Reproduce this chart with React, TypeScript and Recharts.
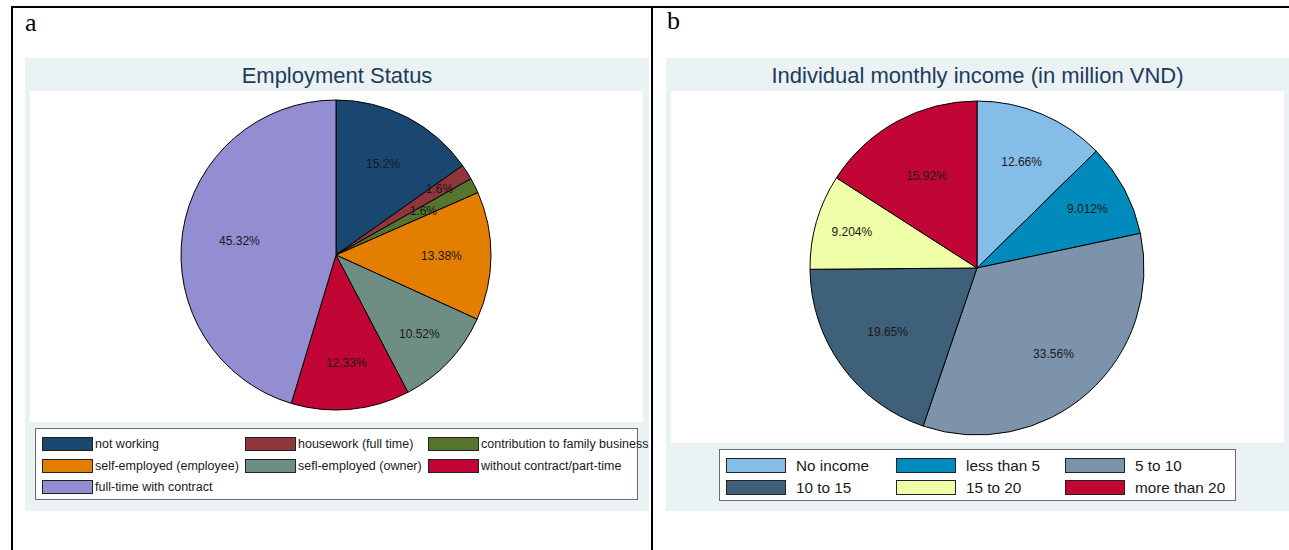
import { PieChart, Pie, Cell } from 'recharts'

const employmentLabels = [
  'not working',
  'housework (full time)',
  'contribution to family business',
  'self-employed (employee)',
  'sefl-employed (owner)',
  'without contract/part-time',
  'full-time with contract',
]
const employmentValues = [15.2, 1.6, 1.6, 13.38, 10.52, 12.33, 45.32]
const employmentColors = ['#1a476f', '#90353b', '#55752f', '#e37e00', '#6e8e84', '#c10534', '#938dd2']
// label distance (fraction of radius) per slice, so the two thin slices don't collide
const employmentLabelPos = [0.66, 0.79, 0.63, 0.68, 0.74, 0.7, 0.63]

const incomeLabels = ['No income', 'less than 5', '5 to 10', '10 to 15', '15 to 20', 'more than 20']
const incomeValues = [12.66, 9.012, 33.56, 19.65, 9.204, 15.92]
const incomeColors = ['#84bde8', '#008bbc', '#7d93ab', '#3e6079', '#eeffa8', '#c10534']
const incomeLabelPos = [0.69, 0.75, 0.69, 0.66, 0.78, 0.63]

const RAD = Math.PI / 180
const FONT = 'Arial, "Liberation Sans", Helvetica, sans-serif'
const SERIF = '"Liberation Serif", "Times New Roman", serif'
const PANEL_BG = '#eaf2f3'
const TITLE_COLOR = '#1e3a5f'
const NO_MARGIN = { top: 0, right: 0, bottom: 0, left: 0 }

const employmentData = employmentLabels.map((name, i) => ({ name, value: employmentValues[i] }))
const incomeData = incomeLabels.map((name, i) => ({ name, value: incomeValues[i] }))

function makeLabel(ratios: number[], size: number) {
  return (props: any) => {
    const { cx, cy, midAngle, outerRadius, value, index } = props
    const r = outerRadius * (ratios[index] ?? 0.68)
    const x = cx + r * Math.cos(-midAngle * RAD)
    const y = cy + r * Math.sin(-midAngle * RAD)
    return (
      <text x={x} y={y} fill="#1a1a1a" fontSize={size} fontFamily={FONT}
        textAnchor="middle" dominantBaseline="central">
        {`${value}%`}
      </text>
    )
  }
}

function LegendBox({ items, colors, cols, style, fontSize, boxW, gap, colW }: any) {
  return (
    <div style={{
      position: 'absolute', background: '#fff', border: '1px solid #6b6b6b',
      boxSizing: 'border-box', fontFamily: FONT, fontSize, color: '#1a1a1a', ...style,
    }}>
      {items.map((it: string, i: number) => {
        const row = Math.floor(i / cols)
        const col = i % cols
        return (
          <div key={it} style={{
            position: 'absolute', left: colW[col], top: 7 + row * gap.row,
            display: 'flex', alignItems: 'center', whiteSpace: 'nowrap', height: gap.h,
          }}>
            <span style={{
              display: 'inline-block', width: boxW, height: gap.h - 2,
              background: colors[i], border: '1px solid #222', boxSizing: 'border-box',
              marginRight: gap.text,
            }} />
            {it}
          </div>
        )
      })}
    </div>
  )
}

export default function App() {
  return (
    <div style={{ position: 'fixed', left: 0, top: 0, width: 1289, height: 550, background: '#fff', overflow: 'hidden' }}>
      {/* table lines */}
      <div style={{ position: 'absolute', left: 11, top: 6, width: 1278, height: 2, background: '#000' }} />
      <div style={{ position: 'absolute', left: 11, top: 6, width: 2, height: 544, background: '#000' }} />
      <div style={{ position: 'absolute', left: 651, top: 6, width: 2, height: 544, background: '#000' }} />
      <div style={{ position: 'absolute', left: 25, top: 8, fontFamily: SERIF, fontSize: 26 }}>a</div>
      <div style={{ position: 'absolute', left: 667, top: 6, fontFamily: SERIF, fontSize: 26 }}>b</div>

      {/* panel a */}
      <div style={{ position: 'absolute', left: 25, top: 58, width: 624, height: 453, background: PANEL_BG }} />
      <div style={{ position: 'absolute', left: 25, top: 63, width: 624, textAlign: 'center', fontFamily: FONT, fontSize: 22, color: TITLE_COLOR }}>
        Employment Status
      </div>
      <div style={{ position: 'absolute', left: 30, top: 91, width: 613, height: 331, background: '#fff' }}>
        <PieChart width={613} height={331} margin={NO_MARGIN}>
          <Pie data={employmentData} dataKey="value" nameKey="name" cx={306} cy={164}
            outerRadius={155} startAngle={90} endAngle={-270} stroke="#000" strokeWidth={1}
            label={makeLabel(employmentLabelPos, 12)} labelLine={false} isAnimationActive={false}>
            {employmentData.map((d, i) => <Cell key={d.name} fill={employmentColors[i]} />)}
          </Pie>
        </PieChart>
      </div>
      <LegendBox items={employmentLabels} colors={employmentColors} cols={3}
        style={{ left: 35, top: 428, width: 603, height: 72 }} fontSize={12.5}
        boxW={51} gap={{ row: 21.5, h: 16, text: 2 }} colW={[6, 209, 392]} />

      {/* panel b */}
      <div style={{ position: 'absolute', left: 666, top: 58, width: 623, height: 453, background: PANEL_BG }} />
      <div style={{ position: 'absolute', left: 666, top: 63, width: 623, textAlign: 'center', fontFamily: FONT, fontSize: 22, color: TITLE_COLOR }}>
        Individual monthly income (in million VND)
      </div>
      <div style={{ position: 'absolute', left: 671, top: 91, width: 613, height: 352, background: '#fff' }}>
        <PieChart width={613} height={352} margin={NO_MARGIN}>
          <Pie data={incomeData} dataKey="value" nameKey="name" cx={306} cy={177}
            outerRadius={167} startAngle={90} endAngle={-270} stroke="#000" strokeWidth={1}
            label={makeLabel(incomeLabelPos, 12)} labelLine={false} isAnimationActive={false}>
            {incomeData.map((d, i) => <Cell key={d.name} fill={incomeColors[i]} />)}
          </Pie>
        </PieChart>
      </div>
      <LegendBox items={incomeLabels} colors={incomeColors} cols={3}
        style={{ left: 719, top: 449, width: 517, height: 52 }} fontSize={15.3}
        boxW={60} gap={{ row: 22, h: 17, text: 10 }} colW={[6, 176, 345]} />
    </div>
  )
}
